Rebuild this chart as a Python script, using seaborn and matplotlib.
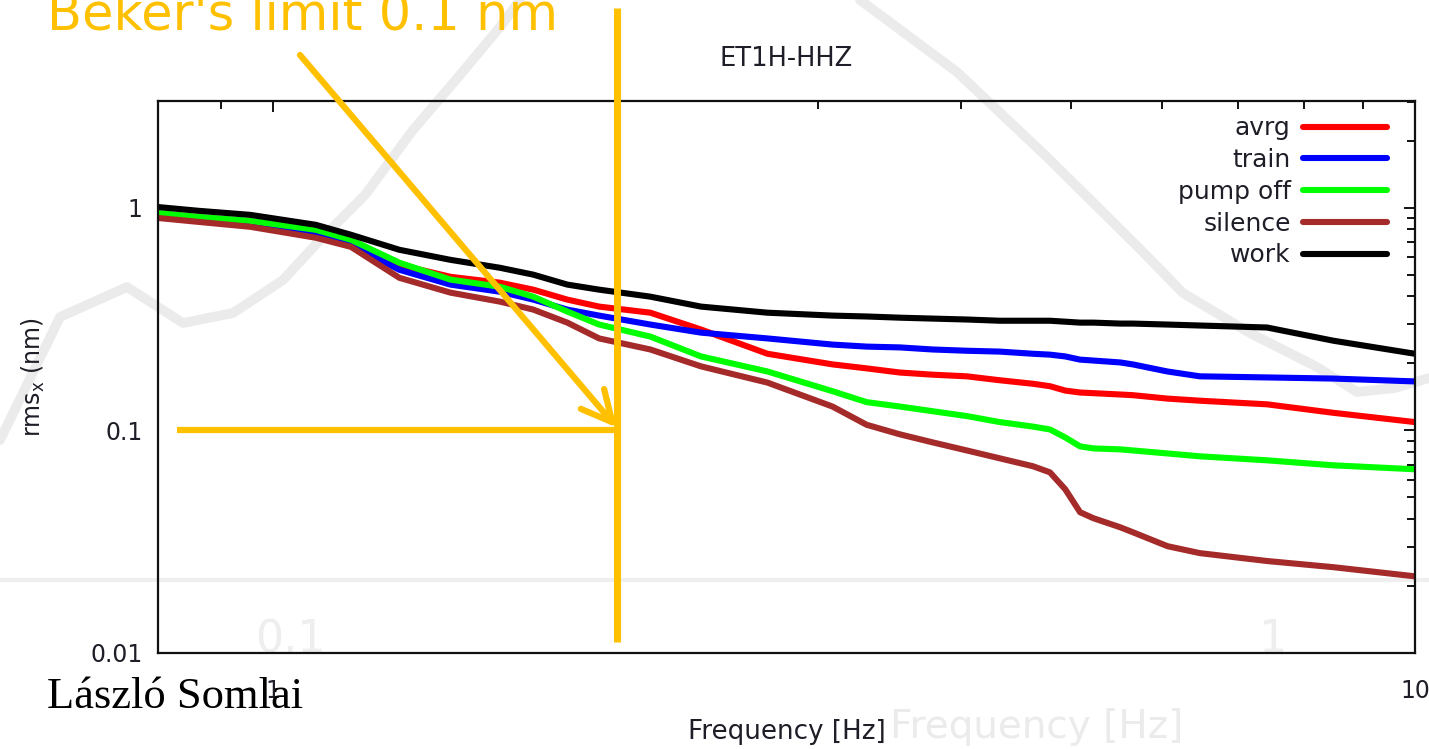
import matplotlib
matplotlib.use("Agg")
import matplotlib.pyplot as plt
import seaborn as sns
import pandas as pd
from matplotlib.ticker import FixedLocator, FixedFormatter, NullFormatter

# ---------------- data ----------------
freq_hz = [0.79, 0.86, 0.955, 1.09, 1.17, 1.29, 1.43, 1.58, 1.69, 1.81, 1.93,
           2.14, 2.37, 2.71, 3.09, 3.31, 3.54, 3.78, 4.05, 4.33, 4.63, 4.79,
           4.94, 5.09, 5.23, 5.52, 5.66, 6.07, 6.48, 7.42, 8.48, 10.0]
avrg = [0.921, 0.893, 0.856, 0.772, 0.697, 0.555, 0.490, 0.461, 0.429, 0.387,
        0.360, 0.338, 0.284, 0.221, 0.198, 0.190, 0.182, 0.178, 0.175, 0.168,
        0.162, 0.158, 0.151, 0.148, 0.147, 0.145, 0.144, 0.139, 0.136, 0.131,
        0.120, 0.109]
train = [0.921, 0.893, 0.839, 0.749, 0.682, 0.527, 0.452, 0.420, 0.387, 0.349,
         0.328, 0.299, 0.275, 0.259, 0.243, 0.238, 0.236, 0.231, 0.228, 0.226,
         0.221, 0.219, 0.215, 0.208, 0.206, 0.202, 0.198, 0.184, 0.175, 0.173,
         0.171, 0.166]
pump_off = [0.950, 0.911, 0.874, 0.797, 0.719, 0.567, 0.476, 0.442, 0.399, 0.342,
            0.299, 0.264, 0.215, 0.184, 0.150, 0.134, 0.128, 0.122, 0.116, 0.109,
            0.104, 0.101, 0.0930, 0.0848, 0.0830, 0.0822, 0.0813, 0.0788, 0.0765,
            0.0734, 0.0697, 0.0669]
silence = [0.902, 0.865, 0.822, 0.734, 0.668, 0.485, 0.416, 0.379, 0.349, 0.305,
           0.259, 0.231, 0.194, 0.164, 0.128, 0.106, 0.0960, 0.0884, 0.0813, 0.0749,
           0.0690, 0.0648, 0.0544, 0.0429, 0.0403, 0.0367, 0.0349, 0.0302, 0.0281,
           0.0259, 0.0243, 0.0221]
work = [1.010, 0.970, 0.930, 0.839, 0.757, 0.648, 0.584, 0.538, 0.501, 0.452,
        0.429, 0.399, 0.360, 0.338, 0.328, 0.325, 0.321, 0.318, 0.315, 0.311,
        0.311, 0.311, 0.308, 0.305, 0.305, 0.302, 0.302, 0.299, 0.296, 0.290,
        0.253, 0.221]

series_names = ["avrg", "train", "pump off", "silence", "work"]
series_values = [avrg, train, pump_off, silence, work]
series_colors = ["#ff0000", "#0000ff", "#00ff00", "#a52a2a", "#000000"]

x_major = [1, 10]
x_major_labels = ["1", "10"]
x_minor = [0.9, 2, 3, 4, 5, 6, 7, 8, 9]
y_major = [0.01, 0.1, 1]
y_major_labels = ["0.01", "0.1", "1"]
y_minor = [0.02, 0.03, 0.04, 0.05, 0.06, 0.07, 0.08, 0.09,
           0.2, 0.3, 0.4, 0.5, 0.6, 0.7, 0.8, 0.9, 2, 3]

limit_freq = 2.0       # Hz
limit_rms = 0.1        # nm
limit_text = "Beker's limit 0.1 nm"
author = "László Somlai"

# ---------------- style ----------------
sns.set_theme(style="white")
plt.rcParams['font.family'] = ['DejaVu Sans']
ORANGE = "#FFC000"
TXT = "#1e1e28"

df = pd.DataFrame({
    "freq": freq_hz * len(series_names),
    "rms": sum(series_values, []),
    "series": sum([[n] * len(freq_hz) for n in series_names], []),
})

W, H = 1429, 749
fig = plt.figure(figsize=(W / 100, H / 100), dpi=100)

# faded background of the slide (decoration)
bg = fig.add_axes([0, 0, 1, 1], zorder=0)
bg.set_xlim(0, W)
bg.set_ylim(H, 0)
bg.axis("off")
deco_left = [(0, 440), (60, 317), (127, 287), (183, 323), (233, 313), (283, 280),
             (320, 240), (365, 195), (413, 130), (460, 75), (500, 27), (520, 0)]
deco_right = [(860, 0), (957, 72), (1048, 158), (1139, 248), (1183, 293),
              (1250, 333), (1317, 367), (1357, 392), (1395, 388), (1429, 378)]
for pts in (deco_left, deco_right):
    bg.plot([p[0] for p in pts], [p[1] for p in pts], color="#ebebeb", lw=7,
            solid_capstyle="round", solid_joinstyle="round")
bg.plot([0, W], [580, 580], color="#efefef", lw=3)
bg.text(290, 640, "0.1", fontsize=32, color="#eeeeee", ha="center", va="center")
bg.text(1272, 640, "1", fontsize=32, color="#eeeeee", ha="center", va="center")
bg.text(890, 738, "Frequency [Hz]", fontsize=28, color="#ebebeb", ha="left", va="baseline")

# main chart
ax = fig.add_axes([158 / W, 1 - 653 / H, (1415 - 158) / W, (653 - 101) / H], zorder=1)
ax.patch.set_alpha(0)
ax.set_xscale("log")
ax.set_yscale("log")
sns.lineplot(data=df, x="freq", y="rms", hue="series", hue_order=series_names,
             palette=dict(zip(series_names, series_colors)), linewidth=4.4,
             estimator=None, ax=ax)
ax.set_xlim(0.793, 10)
ax.set_ylim(0.01, 3.02)

ax.xaxis.set_major_locator(FixedLocator(x_major))
ax.xaxis.set_major_formatter(FixedFormatter(x_major_labels))
ax.xaxis.set_minor_locator(FixedLocator(x_minor))
ax.xaxis.set_minor_formatter(NullFormatter())
ax.yaxis.set_major_locator(FixedLocator(y_major))
ax.yaxis.set_major_formatter(FixedFormatter(y_major_labels))
ax.yaxis.set_minor_locator(FixedLocator(y_minor))
ax.yaxis.set_minor_formatter(NullFormatter())

ax.tick_params(which="both", direction="in", top=True, right=True, width=1.4,
               color="#111111", labelcolor=TXT)
ax.tick_params(which="major", length=8)
ax.tick_params(which="minor", length=6)
ax.tick_params(axis="x", which="major", pad=19, labelsize=17)
ax.tick_params(axis="y", which="major", pad=11, labelsize=17)
for s in ax.spines.values():
    s.set_visible(True)
    s.set_color("#111111")
    s.set_linewidth(1.6)

ax.set_title("ET1H-HHZ", fontsize=18.5, pad=25, color=TXT)
ax.set_xlabel("Frequency [Hz]", fontsize=18.8, color=TXT)
ax.set_ylabel("rms$_\\mathregular{x}$ (nm)", fontsize=17, color=TXT)
ax.xaxis.set_label_coords(0.5, -0.119)
ax.yaxis.set_label_coords(-0.088, 0.5)

old = ax.get_legend()
handles = list(old.legend_handles)
labels = [t.get_text() for t in old.texts]
old.remove()
for h in handles:
    h.set_linewidth(4.4)
ax.legend(handles, labels, loc="upper right", bbox_to_anchor=(0.9777, 0.972),
          frameon=False, markerfirst=False, fontsize=18, borderpad=0,
          borderaxespad=0, labelspacing=0.31, handlelength=3.35,
          handletextpad=0.5, labelcolor=TXT)

# orange annotations
ax.plot([limit_freq, limit_freq], [0.02, 1.168], color=ORANGE, lw=5,
        transform=ax.get_xaxis_transform(), clip_on=False, zorder=6,
        solid_capstyle="butt")
ax.plot([0.824, limit_freq], [limit_rms, limit_rms], color=ORANGE, lw=4.5,
        clip_on=False, zorder=6, solid_capstyle="butt")
ax.annotate("", xy=(limit_freq, limit_rms * 1.03), xycoords="data",
            xytext=(300 / W, 1 - 55 / H), textcoords="figure fraction",
            arrowprops=dict(arrowstyle="->,head_length=1.1,head_width=0.55",
                            mutation_scale=20, color=ORANGE, lw=4.5,
                            shrinkA=0, shrinkB=0, capstyle="round"),
            annotation_clip=False, zorder=6)
fig.text(47 / W, 1 - 30 / H, limit_text, fontsize=36.7, color=ORANGE,
         va="baseline", ha="left", zorder=7)
fig.text(47 / W, 1 - 708 / H, author, fontsize=32, color="black",
         family=["Liberation Serif"], va="baseline", ha="left", zorder=7)

fig.savefig("out.png", dpi=100)
